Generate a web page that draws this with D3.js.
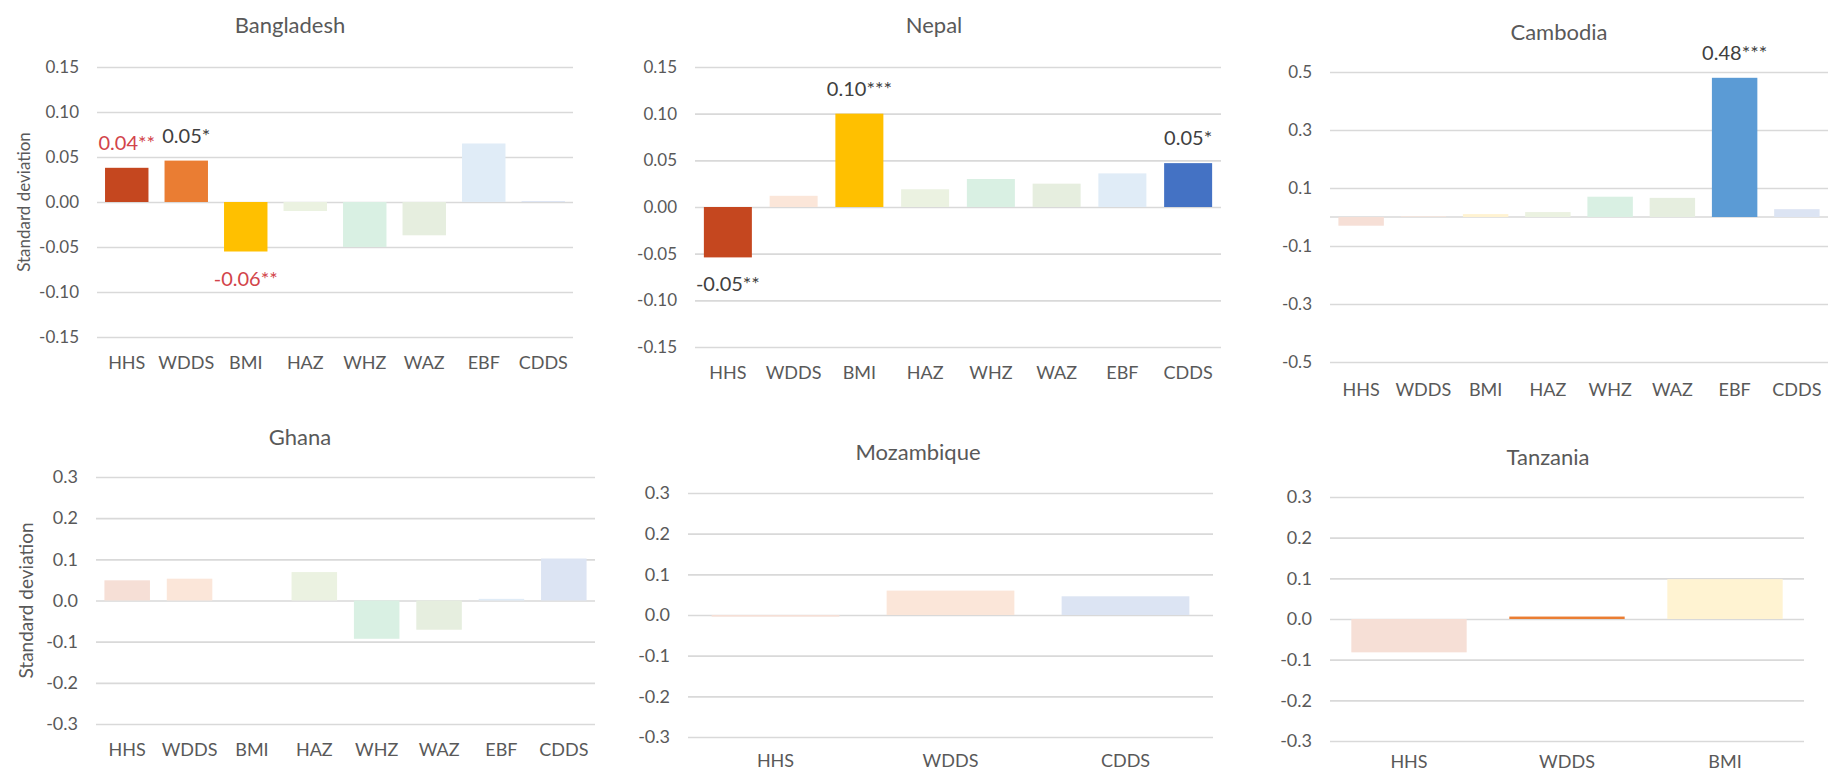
<!DOCTYPE html>
<html>
<head>
<meta charset="utf-8">
<script src="https://cdn.jsdelivr.net/npm/d3@7"></script>
<style>
  html, body { margin: 0; padding: 0; background: #ffffff; }
  svg { display: block; font-family: Lato, "Open Sans", sans-serif; }
</style>
</head>
<body>
<svg id="chart" width="1828" height="774"></svg>
<script>
// ---------------- DATA ----------------
const categoriesFull = ["HHS", "WDDS", "BMI", "HAZ", "WHZ", "WAZ", "EBF", "CDDS"];
const categoriesMozambique = ["HHS", "WDDS", "CDDS"];
const categoriesTanzania = ["HHS", "WDDS", "BMI"];

const ticksSmall = [-0.15, -0.10, -0.05, 0.00, 0.05, 0.10, 0.15];
const ticksCambodia = [-0.5, -0.3, -0.1, 0.1, 0.3, 0.5];
const ticksLarge = [-0.3, -0.2, -0.1, 0.0, 0.1, 0.2, 0.3];

const bangladeshValues = [0.038, 0.046, -0.055, -0.010, -0.050, -0.037, 0.065, 0.001];
const bangladeshLabels = ["0.04**", "0.05*", "-0.06**", "", "", "", "", ""];
const bangladeshSignificant = [1, 1, 1, 0, 0, 0, 0, 0];

const nepalValues = [-0.054, 0.012, 0.100, 0.019, 0.030, 0.025, 0.036, 0.047];
const nepalLabels = ["-0.05**", "", "0.10***", "", "", "", "", "0.05*"];
const nepalSignificant = [1, 0, 1, 0, 0, 0, 0, 1];

const cambodiaValues = [-0.030, 0.002, 0.010, 0.017, 0.070, 0.066, 0.480, 0.027];
const cambodiaLabels = ["", "", "", "", "", "", "0.48***", ""];
const cambodiaSignificant = [0, 0, 0, 0, 0, 0, 1, 0];

const ghanaValues = [0.049, 0.053, 0.000, 0.069, -0.093, -0.071, 0.004, 0.102];
const ghanaLabels = ["", "", "", "", "", "", "", ""];
const ghanaSignificant = [0, 0, 0, 0, 0, 0, 0, 0];

const mozambiqueValues = [-0.004, 0.060, 0.046];
const mozambiqueLabels = ["", "", ""];
const mozambiqueSignificant = [0, 0, 0];

const tanzaniaValues = [-0.082, 0.006, 0.098];
const tanzaniaLabels = ["", "", ""];
const tanzaniaSignificant = [0, 1, 0];

const yAxisTitle = "Standard deviation";

// ---------------- STYLE / LAYOUT ----------------
const strongColor = { HHS: "#C5471F", WDDS: "#EA7D33", BMI: "#FFC000", HAZ: "#70AD47",
  WHZ: "#4CB07A", WAZ: "#8FAE6B", EBF: "#5B9BD5", CDDS: "#4472C4" };
const faintColor = { HHS: "#F6DFD6", WDDS: "#FBE6D9", BMI: "#FFF3D2", HAZ: "#EBF2E1",
  WHZ: "#D9F0E3", WAZ: "#E6EEDF", EBF: "#E0ECF7", CDDS: "#DCE4F3" };
const redLabels = { "Bangladesh": [0, 2] };

const panels = [
  { name: "Bangladesh", cats: categoriesFull, values: bangladeshValues, labels: bangladeshLabels, sig: bangladeshSignificant,
    ticks: ticksSmall, fmt: 2, x0: 97, x1: 573, yTop: 67, yBot: 337, titleX: 290, titleY: 25, catY: 363, yTitle: true, yTitleX: 24, yTitleFont: 17, tickFont: 17 },
  { name: "Nepal", cats: categoriesFull, values: nepalValues, labels: nepalLabels, sig: nepalSignificant,
    ticks: ticksSmall, fmt: 2, x0: 695, x1: 1221, yTop: 67, yBot: 347, titleX: 934, titleY: 25, catY: 373, yTitle: false, tickFont: 17 },
  { name: "Cambodia", cats: categoriesFull, values: cambodiaValues, labels: cambodiaLabels, sig: cambodiaSignificant,
    ticks: ticksCambodia, fmt: 1, x0: 1330, x1: 1828, yTop: 72, yBot: 362, titleX: 1559, titleY: 32, catY: 390, yTitle: false, tickFont: 17, zeroLine: true },
  { name: "Ghana", cats: categoriesFull, values: ghanaValues, labels: ghanaLabels, sig: ghanaSignificant,
    ticks: ticksLarge, fmt: 1, x0: 96, x1: 595, yTop: 477, yBot: 724, titleX: 300, titleY: 437, catY: 750, yTitle: true, yTitleX: 26, yTitleFont: 19, tickFont: 18 },
  { name: "Mozambique", cats: categoriesMozambique, values: mozambiqueValues, labels: mozambiqueLabels, sig: mozambiqueSignificant,
    ticks: ticksLarge, fmt: 1, x0: 688, x1: 1213, yTop: 493, yBot: 737, titleX: 918, titleY: 452, catY: 761, yTitle: false, tickFont: 18 },
  { name: "Tanzania", cats: categoriesTanzania, values: tanzaniaValues, labels: tanzaniaLabels, sig: tanzaniaSignificant,
    ticks: ticksLarge, fmt: 1, x0: 1330, x1: 1804, yTop: 497, yBot: 741, titleX: 1548, titleY: 457, catY: 762, yTitle: false, tickFont: 18 }
];

const textColor = "#595959";
const gridColor = "#D9D9D9";
const locale = d3.formatLocale({ decimal: ".", thousands: ",", grouping: [3], currency: ["$", ""], minus: "-" });

const svg = d3.select("#chart");

panels.forEach(p => {
  const g = svg.append("g").attr("class", "panel");
  const yMax = d3.max(p.ticks), yMin = d3.min(p.ticks);
  const y = d3.scaleLinear().domain([yMin, yMax]).range([p.yBot, p.yTop]);
  const x = d3.scaleBand().domain(p.cats).range([p.x0, p.x1]).paddingInner(0.27).paddingOuter(0.135);
  const fmt = locale.format("." + p.fmt + "f");

  // gridlines
  const grid = g.append("g").attr("transform", `translate(${p.x0},0)`)
    .call(d3.axisLeft(y).tickValues(p.ticks).tickSize(-(p.x1 - p.x0)).tickFormat(""));
  grid.select(".domain").remove();
  grid.selectAll("line").attr("stroke", gridColor).attr("stroke-width", 1.6);

  if (p.zeroLine) {
    g.append("line").attr("x1", p.x0).attr("x2", p.x1)
      .attr("y1", y(0)).attr("y2", y(0)).attr("stroke", gridColor).attr("stroke-width", 1.6);
  }

  // tick labels
  const yAxis = g.append("g").attr("transform", `translate(${p.x0 - 18},0)`)
    .call(d3.axisLeft(y).tickValues(p.ticks).tickSize(0).tickPadding(0).tickFormat(fmt));
  yAxis.select(".domain").remove();
  yAxis.selectAll("text").attr("fill", textColor).style("font-size", p.tickFont + "px")
    .style("font-family", "Lato, sans-serif");

  // bars
  const rows = p.cats.map((c, i) => ({ cat: c, v: p.values[i], label: p.labels[i], sig: p.sig[i], i }));
  g.selectAll("rect.bar").data(rows).enter().append("rect")
    .attr("class", "bar")
    .attr("x", d => x(d.cat))
    .attr("width", x.bandwidth())
    .attr("y", d => y(Math.max(0, d.v)))
    .attr("height", d => Math.max(0.0, Math.abs(y(d.v) - y(0))))
    .attr("fill", d => d.sig ? strongColor[d.cat] : faintColor[d.cat]);

  // value labels
  const reds = redLabels[p.name] || [];
  g.selectAll("text.val").data(rows.filter(d => d.label)).enter().append("text")
    .attr("class", "val")
    .attr("x", d => x(d.cat) + x.bandwidth() / 2)
    .attr("y", d => d.v >= 0 ? y(d.v) - 25 : y(d.v) + 27)
    .attr("dy", "0.35em")
    .attr("text-anchor", "middle")
    .style("font-size", "20px")
    .attr("fill", d => reds.includes(d.i) ? "#D2444A" : "#404040")
    .text(d => d.label);

  // category labels
  const xAxis = g.append("g").attr("transform", `translate(0,${p.catY})`)
    .call(d3.axisBottom(x).tickSize(0).tickPadding(0));
  xAxis.select(".domain").remove();
  xAxis.selectAll("text").attr("y", 0).attr("dy", "0.35em").attr("fill", textColor)
    .style("font-size", "18px").style("font-family", "Lato, sans-serif");

  // title
  g.append("text").attr("x", p.titleX).attr("y", p.titleY).attr("dy", "0.35em")
    .attr("text-anchor", "middle").attr("fill", textColor).style("font-size", "22px")
    .text(p.name);

  // y-axis title
  if (p.yTitle) {
    const cy = (p.yTop + p.yBot) / 2;
    g.append("text").attr("transform", `translate(${p.yTitleX},${cy}) rotate(-90)`)
      .attr("dy", "0.35em").attr("text-anchor", "middle").attr("fill", textColor)
      .style("font-size", p.yTitleFont + "px").text(yAxisTitle);
  }
});
</script>
</body>
</html>
